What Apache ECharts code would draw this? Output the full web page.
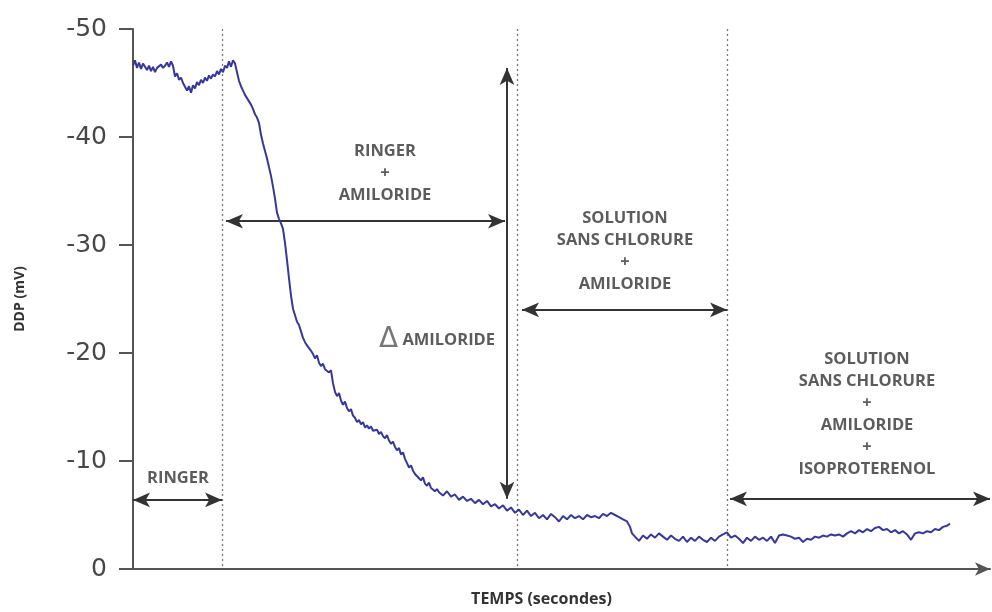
<!DOCTYPE html>
<html>
<head>
<meta charset="utf-8">
<script src="https://cdn.jsdelivr.net/npm/echarts@6/dist/echarts.min.js"></script>
<style>
html,body{margin:0;padding:0;background:#fff;}
#chart{width:992px;height:612px;}
</style>
</head>
<body>
<div id="chart"></div>
<script>
// ---- Data (time in arbitrary seconds, DDP in mV) ----
const timeSec = [
0,2,4,6,8,10,12,14,16,18,20,22,24,26,28,30,32,34,36,38,40,42,44,46,48,50,52,54,56,58,60,62,64,66,68,70,72,74,76,78,80,82,84,86,88,90,92,94,96,98,100,102,
104,106,108,110,112,114,116,118,120,122,124,126,128,130,132,134,136,138,140,142,144,146,148,150,152,154,156,158,160,162,164,166,168,
170,172,174,176,178,180,182,184,186,188,190,192,194,196,198,200,202,204,206,208,210,212,214,216,218,220,222,224,226,228,230,232,234,236,238,240,244,246,248,250,252,254,256,258,260,262,264,266,268,270,272,274,276,278,280,282,284,286,288,290,292,294,296,298,300,302,304,306,
310,314,318,322,326,330,334,338,342,346,350,354,358,362,366,370,374,378,382,386,390,394,398,402,406,410,414,418,422,426,430,434,438,442,446,450,454,458,462,466,470,474,478,482,486,490,494,497,499,502,
506,510,514,518,522,526,530,534,538,542,546,550,554,558,562,566,570,574,578,582,586,590,594,598,602,606,610,614,618,622,626,630,634,638,642,646,650,654,658,662,666,670,674,678,682,686,690,694,698,702,706,710,714,718,722,726,730,734,738,742,746,750,754,758,762,766,770,774,778,782,786,790,794,798,802,806,810,814,817
];
const ddp = [
-46.6,-47.1,-46.4,-46.9,-46.3,-46.8,-46.5,-46.2,-46.6,-46.1,-46.5,-46.0,-46.4,-46.3,-46.7,-46.4,-46.6,-46.9,-46.5,-47.0,-46.6,-45.6,-45.9,-45.3,-45.5,-45.0,-44.9,-44.3,-44.7,-44.1,-44.8,-44.5,-45.1,-44.8,-45.3,-45.0,-45.5,-45.2,-45.7,-45.4,-45.8,-45.6,-46.1,-45.8,-46.3,-46.0,-46.6,-46.4,-47.0,-46.5,-47.1,-46.8,
-46.0,-45.2,-44.7,-44.3,-43.9,-43.6,-43.3,-43.0,-42.6,-42.1,-41.8,-41.3,-40.2,-39.4,-38.7,-38.0,-37.2,-36.4,-35.4,-34.3,-33.0,-32.4,-32.0,-31.5,-30.2,-28.6,-26.9,-25.3,-24.1,-23.5,-22.9,-22.6,-22.0,
-21.4,-21.0,-20.7,-20.8,-20.2,-19.9,-19.5,-19.8,-19.1,-18.8,-19.0,-18.5,-18.6,-18.2,-18.4,-17.2,-16.4,-16.0,-16.3,-15.6,-15.2,-15.5,-14.9,-14.6,-14.8,-14.2,-14.0,-13.6,-13.8,-13.4,-13.6,-13.1,-13.3,-13.0,-13.2,-12.8,-12.9,-12.5,-12.7,-12.3,-12.1,-12.4,-11.9,-11.6,-11.8,-11.3,-11.0,-11.2,-10.6,-10.8,-10.2,-9.8,-9.4,-9.6,-9.1,-8.8,-8.9,-8.4,-8.2,-8.5,-7.9,-7.7,-8.0,-7.5,-7.6,-7.2,-7.4,-7.1,
-6.8,-7.2,-6.7,-6.9,-6.4,-6.7,-6.3,-6.5,-6.1,-6.4,-6.0,-6.3,-5.8,-6.0,-5.6,-5.9,-5.4,-5.7,-5.2,-5.5,-5.0,-5.4,-4.9,-5.2,-4.7,-5.0,-4.6,-5.1,-4.8,-4.4,-4.9,-4.6,-5.0,-4.7,-4.9,-4.6,-5.0,-4.8,-4.9,-4.7,-5.1,-4.9,-5.2,-5.0,-4.8,-4.6,-4.4,-3.9,-3.3,-3.0,
-2.6,-3.1,-2.8,-3.2,-2.9,-3.3,-3.0,-2.7,-3.1,-2.8,-2.6,-3.0,-2.5,-2.9,-2.6,-3.0,-2.7,-2.5,-2.9,-2.6,-3.0,-3.2,-3.4,-2.9,-3.1,-2.8,-2.4,-2.9,-2.6,-3.0,-2.7,-2.9,-2.6,-3.0,-2.4,-3.1,-3.2,-3.1,-3.0,-2.8,-2.9,-2.5,-2.8,-2.7,-3.0,-2.9,-3.1,-3.0,-3.2,-3.1,-3.2,-3.0,-3.3,-3.5,-3.3,-3.6,-3.4,-3.7,-3.5,-3.8,-3.9,-3.6,-3.7,-3.4,-3.6,-3.3,-3.5,-3.2,-2.7,-3.3,-3.4,-3.3,-3.5,-3.4,-3.7,-3.6,-3.9,-4.0,-4.2
];
// Vertical dotted phase boundaries (time)
const phaseBounds = [89, 384, 594];
// Arrow annotations: [x1, y1, x2, y2]
const arrowRinger = [0, -6.4, 89, -6.4];
const arrowRingerAmil = [93, -32.2, 372, -32.2];
const arrowDelta = [374, -46.4, 374, -6.5];
const arrowSolAmil = [389, -24.0, 594, -24.0];
const arrowSolIso = [597, -6.5, 857, -6.5];
// Text annotations
const labelTexts = [
  'RINGER',
  'RINGER\n+\nAMILORIDE',
  '{d|\u0394} AMILORIDE',
  'SOLUTION\nSANS CHLORURE\n+\nAMILORIDE',
  'SOLUTION\nSANS CHLORURE\n+\nAMILORIDE\n+\nISOPROTERENOL'
];
const labelX = [45, 252, 304, 492, 734];
const labelY = [-8.4, -36.6, -21.2, -29.4, -14.3];
const yTicks = [-50, -40, -30, -20, -10, 0];

const series1 = timeSec.map((t, i) => [t, ddp[i]]);
function arrowItem(a) {
  return [{coord: [a[0], a[1]]}, {coord: [a[2], a[3]]}];
}

const chart = echarts.init(document.getElementById('chart'), null, {renderer: 'canvas'});
chart.setOption({
  animation: false,
  backgroundColor: '#fff',
  grid: {left: 133, right: 2, top: 29, bottom: 38, containLabel: false},
  xAxis: {
    type: 'value', min: 0, max: 857,
    name: 'TEMPS (secondes)', nameLocation: 'middle', nameGap: 22,
    nameTextStyle: {fontFamily: 'Open Sans', fontWeight: 'bold', fontSize: 16, color: '#333', padding: [0, 40, 0, 0]},
    axisLine: {show: true, onZero: false, symbol: ['none', 'arrow'], symbolSize: [10, 15],
      lineStyle: {color: '#555', width: 2}},
    axisTick: {show: false}, axisLabel: {show: false}, splitLine: {show: false}
  },
  yAxis: {
    type: 'value', inverse: true, min: -50, max: 0, interval: 10,
    name: 'DDP (mV)', nameLocation: 'middle', nameGap: 106, nameRotate: 90,
    nameTextStyle: {fontFamily: 'Open Sans', fontWeight: 'bold', fontSize: 14, color: '#333'},
    axisLine: {show: true, lineStyle: {color: '#555', width: 2}},
    axisTick: {show: true, length: 14, lineStyle: {color: '#555', width: 2}},
    axisLabel: {fontFamily: 'DejaVu Sans', fontSize: 25, color: '#484848', margin: 26,
      formatter: v => yTicks.indexOf(v) >= 0 ? String(v) : ''},
    splitLine: {show: false}
  },
  series: [
    {
      type: 'line', data: series1, showSymbol: false, symbol: 'none',
      lineStyle: {color: '#38389a', width: 2}, z: 5,
      markLine: {
        silent: true, symbol: ['none', 'none'], label: {show: false},
        lineStyle: {color: '#777', type: [2, 3], width: 1.3},
        data: phaseBounds.map(v => ({xAxis: v}))
      }
    },
    {
      type: 'line', data: [], z: 4,
      markLine: {
        silent: true, symbol: ['arrow', 'arrow'], symbolSize: [11, 17], label: {show: false},
        lineStyle: {color: '#333', type: 'solid', width: 2},
        data: [arrowRinger, arrowRingerAmil, arrowDelta, arrowSolAmil, arrowSolIso].map(arrowItem)
      }
    },
    {
      type: 'scatter', symbolSize: 0, z: 6,
      data: labelTexts.map((t, i) => ({value: [labelX[i], labelY[i]], name: t})),
      label: {
        show: true, position: 'inside', formatter: p => p.name,
        fontFamily: 'Open Sans', fontWeight: 'bold', fontSize: 16.5, color: '#333', lineHeight: 22, align: 'center',
        rich: {d: {fontFamily: 'DejaVu Sans', fontSize: 28, fontWeight: 'normal', color: '#555', lineHeight: 22}}
      }
    }
  ]
});
</script>
</body>
</html>
